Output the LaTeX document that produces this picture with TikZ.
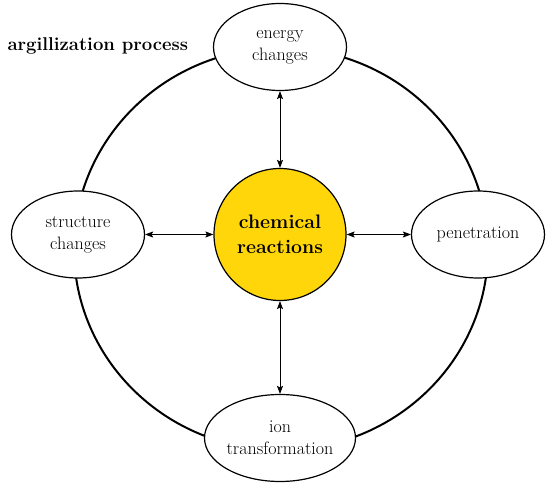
\documentclass[tikz,border=0pt]{standalone}
\usetikzlibrary{shapes.geometric,arrows.meta}
\definecolor{gold}{RGB}{255,214,10}
\begin{document}
\begin{tikzpicture}[x=1pt,y=1pt,
  oval/.style={draw,line width=1.2pt,fill=white,ellipse,inner sep=0pt,
    minimum width=133pt,minimum height=87pt,align=center,
    font=\fontsize{18}{22}\selectfont},
  core/.style={draw,line width=1.2pt,fill=gold,circle,inner sep=0pt,
    minimum size=132pt,align=center,
    font=\fontsize{19.5}{25}\selectfont\bfseries},
  link/.style={line width=0.8pt,{Stealth[length=8pt,width=6pt,inset=1.5pt]}-{Stealth[length=8pt,width=6pt,inset=1.5pt]}}]
\useasboundingbox (0,0) rectangle (550,488);
\draw[line width=2pt] (281,239) ellipse [x radius=207, y radius=201];
\node[oval] (top) at (280,441) {energy\\changes};
\node[oval] (bot) at (280,50) {ion\\transformation};
\node[oval] (lft) at (78,253.5) {structure\\changes};
\node[oval] (rgt) at (478,253.5) {penetration};
\node[core] (c) at (280,253.5) {chemical\\reactions};
\node[anchor=west,font=\fontsize{18.5}{22}\selectfont\bfseries] (title) at (4,442) {argillization process};
\draw[link] (c.north) -- (top.south);
\draw[link] (c.south) -- (bot.north);
\draw[link] (c.west) -- (lft.east);
\draw[link] (c.east) -- (rgt.west);
\end{tikzpicture}
\end{document}
